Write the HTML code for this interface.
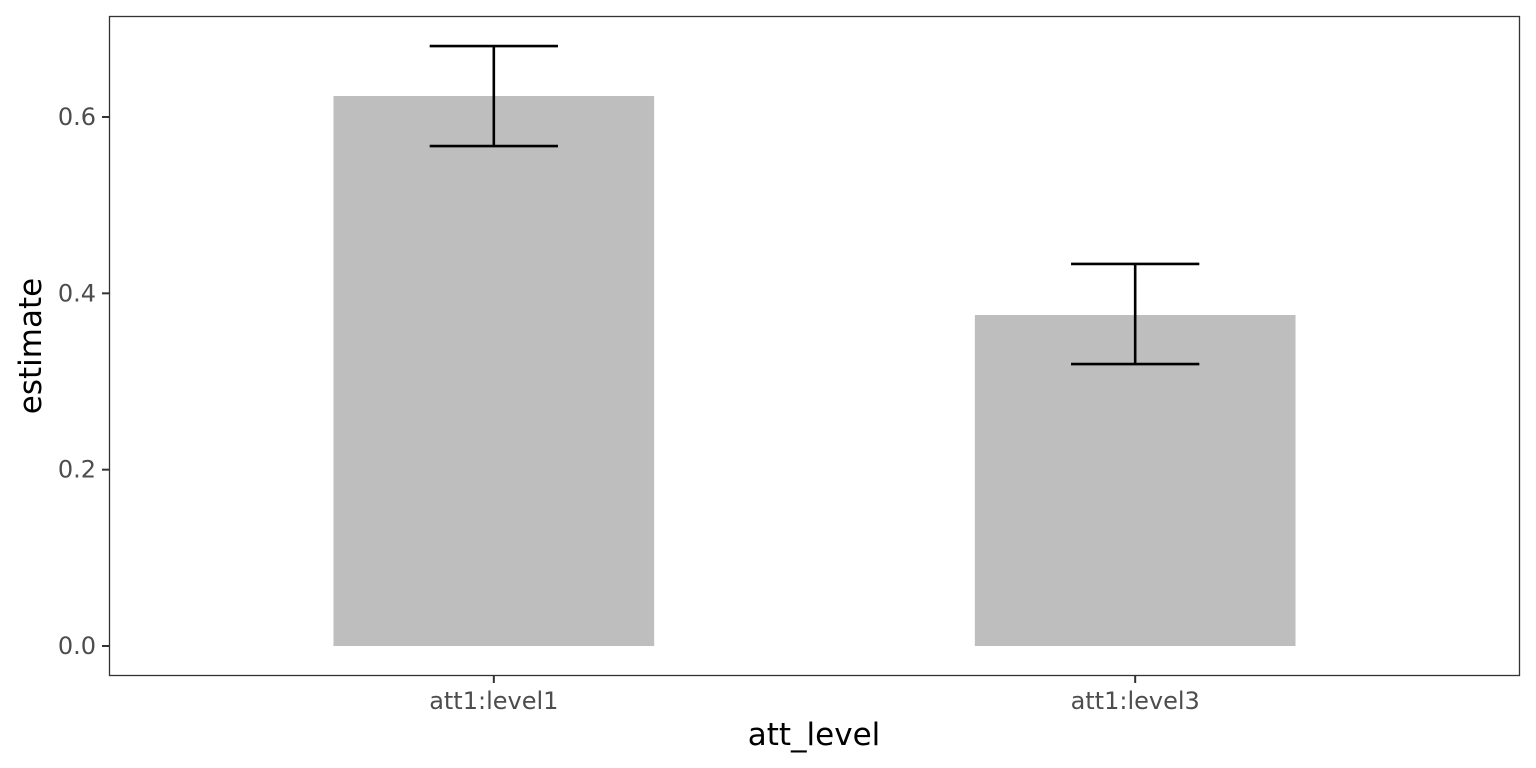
<!DOCTYPE html>
<html><head><meta charset="utf-8"><style>
html,body{margin:0;padding:0;background:#fff;}
svg{display:block;font-family:"DejaVu Sans","Liberation Sans",sans-serif;}
</style></head><body>
<svg id="chart" width="1536" height="768">
<rect x="0" y="0" width="1536" height="768" fill="#fff"/>
<g id="marks"></g>
<rect x="109.5" y="16.5" width="1410" height="659" fill="none" stroke="#333" stroke-width="1.3"/>
<g id="axes"></g>
<text x="814" y="745" text-anchor="middle" font-size="31" fill="#000">att_level</text>
<text transform="translate(41,346) rotate(-90)" text-anchor="middle" font-size="31" fill="#000">estimate</text>
</svg>
<script>
const categories = ["att1:level1", "att1:level3"];
const estimates = [0.6238, 0.3754];
const lowerCI = [0.567, 0.3198];
const upperCI = [0.6805, 0.4333];
const yTicks = [0, 0.2, 0.4, 0.6];
const yTickLabels = ["0.0", "0.2", "0.4", "0.6"];

const NS = "http://www.w3.org/2000/svg";
const px0 = 109, px1 = 1520;
const y = v => 646 - v * 881.67;
const xUnit = (px1 - px0) / (categories.length + 0.2);
const x = i => px0 + (i + 0.6) * xUnit;
function mk(tag, attrs, parent) {
  const e = document.createElementNS(NS, tag);
  for (const k in attrs) e.setAttribute(k, attrs[k]);
  parent.appendChild(e);
  return e;
}
const marks = document.getElementById('marks');
const axes = document.getElementById('axes');
categories.forEach((c, i) => {
  const cx = x(i), bw = 0.5 * xUnit, ew = 0.2 * xUnit;
  const bar = mk('rect', {x: cx - bw / 2, y: y(estimates[i]), width: bw, height: y(0) - y(estimates[i]), fill: '#bebebe'}, marks);
  
  
  const g = mk('g', {stroke: '#000', 'stroke-width': 2.6, fill: 'none'}, marks);
  
  
  mk('line', {x1: cx, x2: cx, y1: y(upperCI[i]), y2: y(lowerCI[i])}, g);
  mk('line', {x1: cx - ew / 2, x2: cx + ew / 2, y1: y(upperCI[i]), y2: y(upperCI[i])}, g);
  mk('line', {x1: cx - ew / 2, x2: cx + ew / 2, y1: y(lowerCI[i]), y2: y(lowerCI[i])}, g);
  const t = mk('line', {x1: cx, x2: cx, y1: 676, y2: 683, stroke: '#333', 'stroke-width': 2}, axes);
  
  
  const lb = mk('text', {x: cx, y: 709, 'text-anchor': 'middle', 'font-size': 24, fill: '#4d4d4d'}, axes);
  lb.textContent = c;
  
  
});
yTicks.forEach((v, i) => {
  const t = mk('line', {x1: 102, x2: 109, y1: y(v), y2: y(v), stroke: '#333', 'stroke-width': 2}, axes);
  
  
  const lb = mk('text', {x: 96, y: y(v) + 8, 'text-anchor': 'end', 'font-size': 24, fill: '#4d4d4d'}, axes);
  lb.textContent = yTickLabels[i];
  
  
});
</script>
</body></html>
